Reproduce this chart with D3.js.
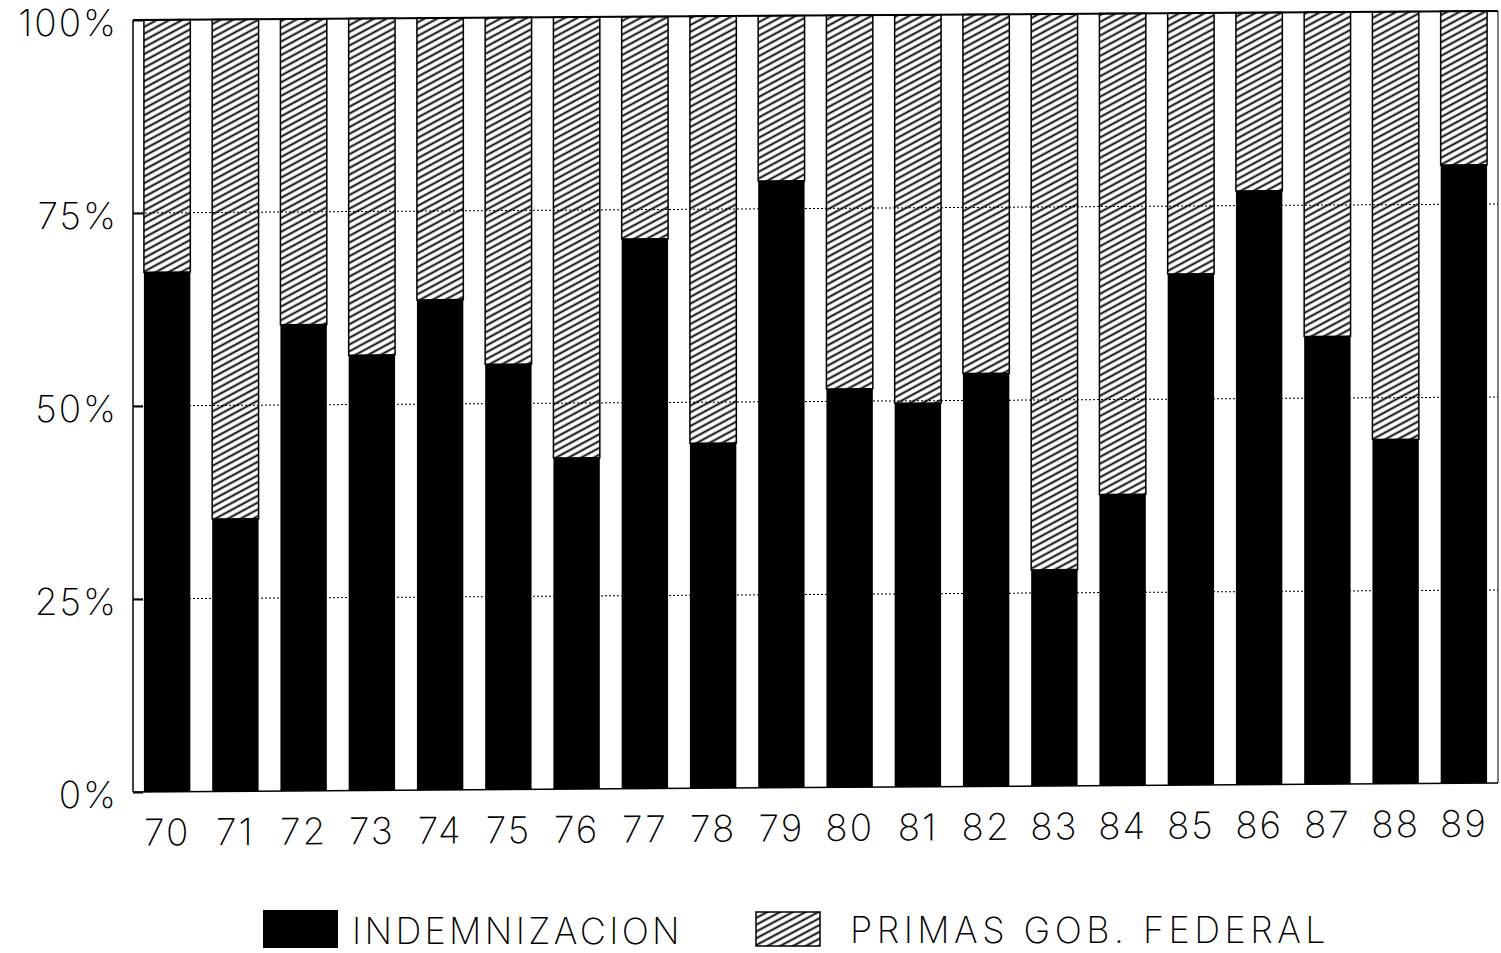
<!DOCTYPE html>
<html>
<head>
<meta charset="utf-8">
<script src="https://d3js.org/d3.v7.min.js"></script>
<style>
  body { margin: 0; background: #fff; }
  text { font-family: Inter, "DejaVu Sans", sans-serif; font-weight: 200; fill: #000; }
</style>
</head>
<body>
<div class="graph"></div>
<script>
  // data (share in %)
  const years = ['70','71','72','73','74','75','76','77','78','79',
                 '80','81','82','83','84','85','86','87','88','89'];
  const indemnizacion = [67.3, 35.3, 60.4, 56.4, 63.5, 55.1, 42.9, 71.2, 44.7, 78.6,
                         51.6, 49.7, 53.5, 28.0, 37.7, 66.2, 76.9, 58.0, 44.6, 80.1];
  const primas = indemnizacion.map(v => 100 - v);
  const yTicks = [0, 25, 50, 75, 100];
  const seriesNames = ['INDEMNIZACION', 'PRIMAS GOB. FEDERAL'];

  const width = 1501, height = 953;
  const plotLeft = 133, plotRight = 1498, plotTop = 20, plotBottom = 792;

  const svg = d3.select('.graph').append('svg')
    .attr('width', width)
    .attr('height', height);

  // hatch pattern
  const defs = svg.append('defs');
  defs.append('pattern')
    .attr('id', 'hatch')
    .attr('patternUnits', 'userSpaceOnUse')
    .attr('width', 8).attr('height', 6)
    .attr('patternTransform', 'rotate(-28)')
    .append('line')
    .attr('x1', 0).attr('y1', 1.5).attr('x2', 8).attr('y2', 1.5)
    .attr('stroke', '#000').attr('stroke-width', 1.9);

  const xScale = d3.scaleBand()
    .domain(years)
    .range([plotLeft, plotRight])
    .paddingInner(0.32)
    .paddingOuter(0.16);

  const yScale = d3.scaleLinear()
    .domain([0, 100])
    .range([plotBottom, plotTop]);

  // the scan is slightly skewed (verticals stay vertical)
  const g = svg.append('g')
    .attr('transform', `translate(${plotLeft},${plotBottom}) skewY(-0.38) translate(${-plotLeft},${-plotBottom})`);

  // dotted grid
  g.append('g').selectAll('line')
    .data(yTicks.filter(d => d > 0 && d < 100))
    .join('line')
    .attr('x1', plotLeft).attr('x2', plotRight)
    .attr('y1', d => yScale(d)).attr('y2', d => yScale(d))
    .attr('stroke', '#000')
    .attr('stroke-width', 1)
    .attr('stroke-dasharray', '2,2');

  const stack = years.map((y, i) => ({ year: y, a: indemnizacion[i], b: primas[i] }));

  // primas (hatched, on top)
  g.append('g').selectAll('rect')
    .data(stack)
    .join('rect')
    .attr('x', d => xScale(d.year))
    .attr('width', xScale.bandwidth())
    .attr('y', d => yScale(d.a + d.b))
    .attr('height', d => yScale(d.a) - yScale(d.a + d.b))
    .attr('fill', 'url(#hatch)')
    .attr('stroke', '#000')
    .attr('stroke-width', 1.5);

  // indemnizacion (black)
  g.append('g').selectAll('rect')
    .data(stack)
    .join('rect')
    .attr('x', d => xScale(d.year))
    .attr('width', xScale.bandwidth())
    .attr('y', d => yScale(d.a))
    .attr('height', d => yScale(0) - yScale(d.a))
    .attr('fill', '#000');

  // frame: left axis, top line, baseline, right edge
  g.append('line').attr('x1', plotLeft).attr('x2', plotLeft).attr('y1', plotTop).attr('y2', plotBottom)
    .attr('stroke', '#000').attr('stroke-width', 1.5);
  g.append('line').attr('x1', plotLeft).attr('x2', plotRight).attr('y1', plotTop).attr('y2', plotTop)
    .attr('stroke', '#000').attr('stroke-width', 2);
  g.append('line').attr('x1', plotLeft).attr('x2', plotRight).attr('y1', plotBottom).attr('y2', plotBottom)
    .attr('stroke', '#000').attr('stroke-width', 1.5);
  g.append('line').attr('x1', plotRight).attr('x2', plotRight).attr('y1', plotTop).attr('y2', plotBottom)
    .attr('stroke', '#000').attr('stroke-width', 1);

  // y axis ticks + labels (text kept upright, outside the skew)
  const yAxis = d3.axisLeft(yScale)
    .tickValues(yTicks)
    .tickSize(-10)
    .tickPadding(15)
    .tickFormat(d => d + '%');

  svg.append('g')
    .attr('transform', `translate(${plotLeft},0)`)
    .call(yAxis)
    .call(s => s.select('.domain').remove())
    .call(s => s.selectAll('.tick line').attr('stroke-width', 2))
    .call(s => s.selectAll('.tick text')
      .attr('font-size', 37)
      .attr('font-family', null)
      .attr('letter-spacing', 2)
      .attr('dy', '0.43em'));

  // x axis labels
  const xAxis = d3.axisBottom(xScale).tickSize(0).tickPadding(27);
  g.append('g')
    .attr('transform', `translate(0,${plotBottom})`)
    .call(xAxis)
    .call(s => s.select('.domain').remove())
    .call(s => s.selectAll('.tick text')
      .attr('font-size', 37)
      .attr('font-family', null)
      .attr('letter-spacing', 2)
      .attr('dy', '0.72em'));

  // legend
  const legend = svg.append('g');
  legend.append('rect')
    .attr('x', 263).attr('y', 910).attr('width', 75).attr('height', 38)
    .attr('fill', '#000');
  const t1 = legend.append('text')
    .attr('x', 352).attr('y', 944)
    .attr('font-size', 36)
    .text(seriesNames[0]);

  legend.append('rect')
    .attr('x', 756).attr('y', 912).attr('width', 64).attr('height', 34)
    .attr('fill', 'url(#hatch)')
    .attr('stroke', '#000').attr('stroke-width', 1.5);
  const t2 = legend.append('text')
    .attr('x', 850).attr('y', 943)
    .attr('font-size', 36)
    .text(seriesNames[1]);

  // spread letters to the widths seen in the picture
  function spread(t, target) {
    const n = t.text().length;
    const w = t.node().getComputedTextLength();
    t.attr('letter-spacing', (target - w) / n);
  }
  spread(t1, 331);
  spread(t2, 480);
</script>
</body>
</html>
